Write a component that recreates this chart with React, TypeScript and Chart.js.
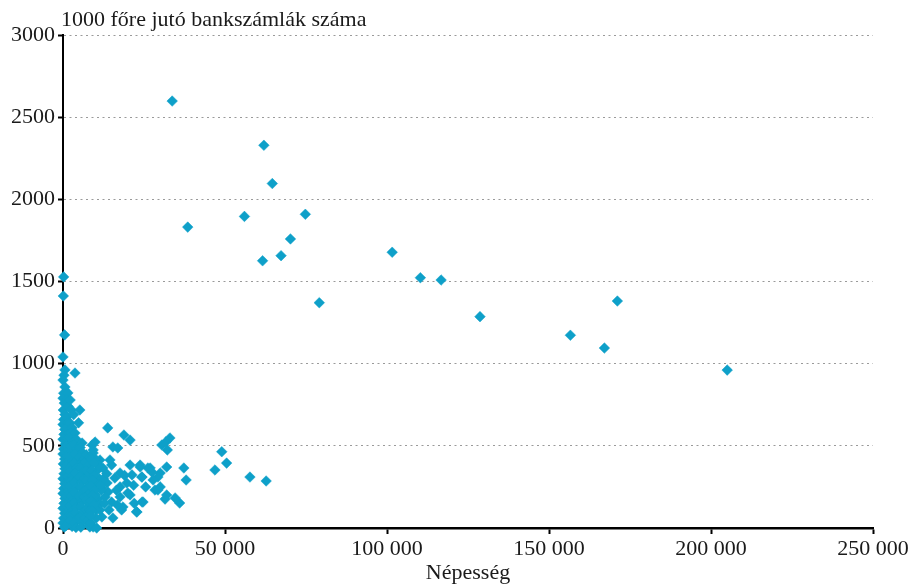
import React, { useEffect, useRef } from "react";
import { Chart, registerables } from "chart.js";

Chart.register(...registerables);

const yAxisTitle = "1000 főre jutó bankszámlák száma";
const xAxisTitle = "Népesség";
const xTickValues = [0, 50000, 100000, 150000, 200000, 250000];
const yTickValues = [0, 500, 1000, 1500, 2000, 2500, 3000];

// [population, accounts per 1000 inhabitants]
const bigCities: [number, number][] = [
  [33700, 2598], [62000, 2329], [64600, 2096], [56000, 1896], [74800, 1909],
  [38500, 1831], [70200, 1759], [67300, 1657], [61600, 1626], [79100, 1371],
  [101600, 1678], [110300, 1523], [116700, 1509], [128700, 1286],
  [156600, 1173], [167100, 1095], [171100, 1381], [205000, 961],
];

const midTowns: [number, number][] = [
  [62700, 286], [57700, 310], [49000, 464], [50500, 395], [46900, 353],
  [37300, 365], [38000, 292], [36000, 152], [34600, 183], [31500, 176],
  [30500, 505], [31800, 525], [33000, 548], [32200, 475], [32000, 371],
  [30000, 335], [29300, 310], [30000, 250], [28400, 231], [32000, 201],
  [29300, 231], [27800, 292], [26900, 365], [26200, 365], [24400, 310],
  [24300, 310], [23800, 371], [23800, 383], [21300, 323], [20700, 383],
  [20700, 201], [20000, 213], [19700, 274], [24400, 158], [24700, 158],
  [22700, 99], [22800, 97], [18500, 128], [18100, 110], [17600, 189],
  [17600, 250], [17600, 335], [16000, 304], [15000, 383], [15000, 158],
  [15400, 61], [15400, 493], [16900, 487], [18800, 566], [20700, 535],
  [13800, 609], [14500, 414], [13600, 274], [13900, 219], [13000, 189],
  [12300, 365], [12000, 243], [12000, 67], [11400, 414], [11400, 110],
  [10400, 0], [9300, 6], [8300, 6], [10500, 350], [11200, 300],
  [10300, 270], [11800, 230], [10700, 175], [11400, 145], [10300, 110],
  [12500, 300], [12800, 150], [13500, 330], [14200, 110], [16500, 230],
  [16800, 140], [19000, 320], [21800, 260], [22000, 150], [25500, 250],
  [27500, 340], [10000, 420], [10100, 200], [10200, 60], [11000, 380],
  [11600, 260],
];

const smallTowns: [number, number][] = [
  [200, 1528], [100, 1412], [500, 1175], [0, 1041], [600, 962], [300, 930],
  [0, 900], [600, 858], [200, 820], [0, 790], [400, 760], [100, 718],
  [600, 690], [200, 660], [0, 630], [500, 600], [300, 570], [0, 540],
  [700, 510], [200, 480], [0, 450], [500, 420], [100, 390], [600, 360],
  [300, 330], [0, 300], [500, 270], [200, 240], [0, 210], [600, 180],
  [300, 150], [0, 120], [500, 90], [200, 60], [0, 30], [400, 5],
  [1500, 822], [1200, 780], [1600, 740], [1200, 676], [1500, 640],
  [1100, 610], [1700, 575], [1300, 545], [1000, 500], [1600, 470],
  [1200, 440], [1700, 410], [1100, 380], [1500, 350], [1300, 315],
  [1800, 285], [1000, 255], [1600, 225], [1200, 195], [1700, 165],
  [1100, 135], [1500, 100], [1300, 70], [1800, 40], [1000, 15],
  [2200, 779], [2500, 720], [2200, 639], [2800, 610], [2400, 580],
  [2100, 550], [2900, 520], [2300, 495], [2700, 465], [2100, 435],
  [2900, 405], [2400, 375], [2200, 345], [2800, 315], [2400, 285],
  [2100, 255], [2900, 225], [2300, 195], [2700, 165], [2100, 135],
  [2900, 105], [2400, 75], [2200, 45], [2800, 10],
  [3700, 943], [3700, 578], [3300, 690], [4100, 540], [3500, 505],
  [4300, 480], [3600, 450], [4400, 420], [3400, 395], [4200, 365],
  [3700, 335], [4500, 300], [3500, 275], [4200, 245], [3600, 215],
  [4400, 185], [3400, 155], [4200, 125], [3700, 95], [4500, 60],
  [3500, 30], [4000, 3],
  [5200, 718], [5900, 517], [5300, 490], [6000, 460], [5100, 430],
  [5800, 400], [5400, 370], [6100, 340], [5200, 310], [5900, 280],
  [5500, 250], [6200, 220], [5100, 190], [5800, 160], [5400, 130],
  [6100, 95], [5200, 65], [5900, 35], [5500, 5],
  [6500, 420], [6600, 300], [6400, 190], [6700, 60], [4800, 640],
  [6800, 402], [7200, 445], [7800, 380], [7100, 350], [7900, 320],
  [7300, 290], [8000, 260], [7000, 230], [7700, 200], [7200, 170],
  [8000, 140], [7100, 110], [7800, 80], [7400, 45], [8000, 15],
  [8300, 430], [8200, 330], [8400, 215], [8200, 110], [8500, 30],
  [9000, 505], [9300, 456], [9900, 523], [9300, 475], [8700, 420],
  [9500, 395], [8800, 350], [9600, 320], [9000, 290], [8600, 255],
  [9700, 230], [9100, 200], [8700, 165], [9500, 140], [9000, 105],
  [8600, 75],
];

const pointColor = "#0ea0c9";
const fontFamily = '"Liberation Serif", "Times New Roman", serif';

const fmtThousands = (v: number) =>
  String(v).replace(/\B(?=(\d{3})+(?!\d))/g, " ");

export default function App() {
  const ref = useRef<HTMLCanvasElement | null>(null);

  useEffect(() => {
    if (!ref.current) return;
    const all = [...bigCities, ...midTowns, ...smallTowns];
    const titlePlugin = {
      id: "yTitle",
      afterDraw(chart: any) {
        const { ctx, chartArea } = chart;
        ctx.save();
        ctx.font = `22px ${fontFamily}`;
        ctx.fillStyle = "#1a1a1a";
        ctx.textAlign = "left";
        ctx.textBaseline = "alphabetic";
        ctx.fillText(yAxisTitle, chartArea.left - 2, 26);
        ctx.restore();
      },
    };
    const chart = new Chart(ref.current, {
      type: "scatter",
      data: {
        datasets: [
          {
            data: all.map(([x, y]) => ({ x, y })),
            pointStyle: "rectRot",
            pointRadius: 5.3,
            pointHoverRadius: 5.3,
            backgroundColor: pointColor,
            borderColor: pointColor,
            borderWidth: 0.5,
            clip: false,
          },
        ],
      },
      options: {
        animation: false,
        responsive: false,
        maintainAspectRatio: false,
        layout: { padding: { top: 35, right: 42, left: 0, bottom: 0 } },
        plugins: {
          legend: { display: false },
          tooltip: { enabled: false },
        },
        scales: {
          x: {
            type: "linear",
            min: 0,
            max: 250000,
            afterFit(scale: any) {
              scale.height = 58;
            },
            afterBuildTicks(scale: any) {
              scale.ticks = xTickValues.map((v) => ({ value: v }));
            },
            ticks: {
              color: "#1a1a1a",
              font: { family: fontFamily, size: 22 },
              padding: 2,
              maxRotation: 0,
              callback: (v: any) => fmtThousands(Number(v)),
            },
            grid: {
              drawOnChartArea: false,
              drawTicks: true,
              tickLength: 6,
              tickColor: "#000",
              tickWidth: 2,
            },
            border: { color: "#000", width: 2.5 },
            title: {
              display: true,
              text: xAxisTitle,
              color: "#1a1a1a",
              font: { family: fontFamily, size: 22 },
              padding: { top: 0, bottom: 0 },
            },
          },
          y: {
            type: "linear",
            min: 0,
            max: 3000,
            afterFit(scale: any) {
              scale.width = 63;
            },
            afterBuildTicks(scale: any) {
              scale.ticks = yTickValues.map((v) => ({ value: v }));
            },
            ticks: {
              color: "#1a1a1a",
              font: { family: fontFamily, size: 22 },
              padding: 3,
              callback: (v: any) => String(v),
            },
            grid: {
              color: "#9a9a9a",
              lineWidth: 1,
              drawTicks: true,
              tickLength: 5,
              tickColor: "#000",
              tickWidth: 2,
              tickBorderDash: [],
            },
            border: { color: "#000", width: 2, dash: [2, 3.5] },
          },
        },
      },
      plugins: [titlePlugin],
    } as any);
    return () => chart.destroy();
  }, []);

  return (
    <div
      style={{
        position: "fixed",
        left: 0,
        top: 0,
        width: 915,
        height: 586,
        background: "#fff",
      }}
    >
      <canvas ref={ref} width={915} height={586} style={{ width: 915, height: 586 }} />
    </div>
  );
}
